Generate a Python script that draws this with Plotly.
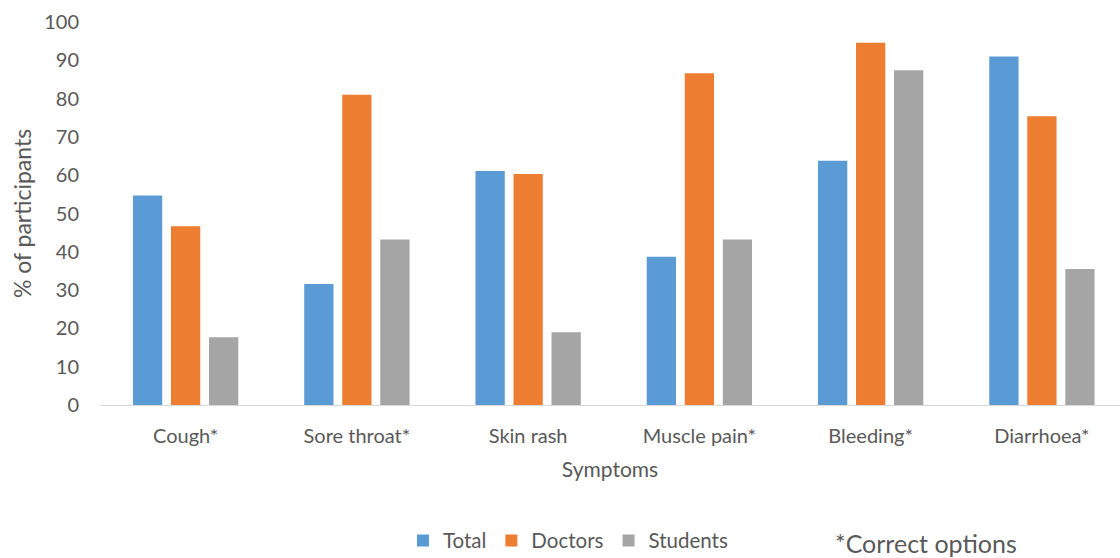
import plotly.graph_objects as go

categories = ["Cough*", "Sore throat*", "Skin rash", "Muscle pain*", "Bleeding*", "Diarrhoea*"]
total = [54.7, 31.6, 61.1, 38.7, 63.8, 91.0]
doctors = [46.7, 81.0, 60.3, 86.6, 94.6, 75.4]
students = [17.7, 43.2, 19.0, 43.2, 87.4, 35.5]
y_ticks = [0, 10, 20, 30, 40, 50, 60, 70, 80, 90, 100]

W, H = 1120, 558
ML, MR, MT, MB = 100, 0, 22, 153
FONT = "Lato, Calibri, Carlito, sans-serif"
TXT = "#595959"

fig = go.Figure()
for name, vals, col in [("Total", total, "#5B9BD5"),
                        ("Doctors", doctors, "#ED7D31"),
                        ("Students", students, "#A5A5A5")]:
    fig.add_trace(go.Bar(x=categories, y=vals, name=name, marker_color=col,
                         marker_line_width=0))

fig.update_layout(
    width=W, height=H,
    margin=dict(l=ML, r=MR, t=MT, b=MB, autoexpand=False),
    paper_bgcolor="white", plot_bgcolor="white",
    barmode="group", bargap=0.334, bargroupgap=0.23,
    font=dict(family=FONT, color=TXT, size=20),
    showlegend=True,
    legend=dict(orientation="h", x=0.297, y=-0.302, xanchor="left", yanchor="top",
                font=dict(size=20.5, color=TXT), itemwidth=30, traceorder="normal",
                bgcolor="rgba(0,0,0,0)"),
)
fig.update_xaxes(
    type="category", range=[-0.5, 5.456],
    showline=True, linecolor="#D9D9D9", linewidth=1,
    showgrid=False, ticks="", ticklabelstandoff=13,
    tickfont=dict(size=20, color=TXT),
    title=dict(text="Symptoms", font=dict(size=21, color=TXT), standoff=16),
)
fig.update_yaxes(
    range=[0, 100], tickvals=y_ticks, showgrid=False, showline=False,
    zeroline=False, ticks="", ticklabelstandoff=20,
    tickfont=dict(size=20, color=TXT),
    title=dict(text="% of participants", font=dict(size=23, color=TXT), standoff=6),
)
fig.add_annotation(text="*Correct options", xref="paper", yref="paper",
                   x=(833 - ML) / (W - ML - MR), y=-(543 - (H - MB)) / (H - MT - MB),
                   xanchor="left", yanchor="middle", showarrow=False,
                   font=dict(size=25, color=TXT, family=FONT))

fig.write_html("out.html")
